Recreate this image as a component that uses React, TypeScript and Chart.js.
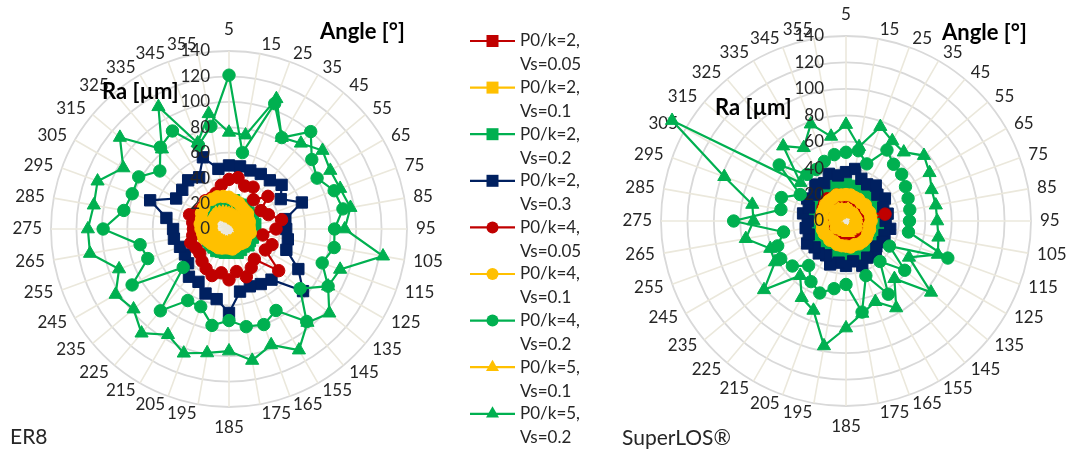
import React, { useEffect, useRef } from 'react';
import { Chart, registerables } from 'chart.js';

Chart.register(...registerables);

// ---------- DATA ----------
const angleLabels = ['5','15','25','35','45','55','65','75','85','95','105','115','125','135','145','155','165','175','185','195','205','215','225','235','245','255','265','275','285','295','305','315','325','335','345','355'];
const tickValues = [0, 20, 40, 60, 80, 100, 120, 140];

const seriesNames = ['P0/k=2, Vs=0.05', 'P0/k=2, Vs=0.1', 'P0/k=2, Vs=0.2', 'P0/k=2, Vs=0.3', 'P0/k=4, Vs=0.05', 'P0/k=4, Vs=0.1', 'P0/k=4, Vs=0.2', 'P0/k=5, Vs=0.1', 'P0/k=5, Vs=0.2'];
const seriesColors = ['#C00000', '#FFC000', '#00B050', '#002060', '#C00000', '#FFC000', '#00B050', '#FFC000', '#00B050'];
const seriesMarkers = ['rect', 'rect', 'rect', 'rect', 'circle', 'circle', 'circle', 'triangle', 'triangle'];

// ER8
const er8K2Vs005 = [15,14,13,12,12,12,11,11,12,13,13,14,15,16,17,17,16,15,14,14,15,15,16,17,18,19,20,20,21,21,20,21,20,18,17,16];
const er8K2Vs01 = [10,10,9,9,9,9,9,9,9,10,10,10,10,11,11,11,11,11,11,11,12,12,12,13,13,14,14,15,15,15,16,16,15,14,13,11];
const er8K2Vs02 = [22,23,21,22,21,20,21,20,21,20,19,20,19,20,18,19,20,19,18,19,19,20,19,20,19,20,21,20,21,20,21,22,21,22,21,23];
const er8K2Vs03 = [50,50,49,50,50,54,47,61,45,45,47,48,63,76,52,50,48,50,66,56,54,48,49,42,40,41,44,44,50,66,48,48,50,47,60,48];
const er8K4Vs005 = [39,41,36,38,30,40,29,33,42,37,27,36,33,51,31,35,40,34,40,35,39,36,33,30,30,32,29,28,29,33,28,27,29,28,30,35];
const er8K4Vs01 = [25,23,22,20,19,19,17,17,16,16,17,15,15,16,15,14,15,16,15,15,16,17,17,18,19,21,21,22,23,23,25,26,28,27,27,26];
const er8K4Vs02 = [121,61,105,83,100,85,80,88,91,83,84,78,90,73,95,74,80,78,72,77,65,65,84,47,88,68,71,99,84,81,82,71,84,89,70,82];
const er8K5Vs01 = [12,12,11,11,11,10,10,10,9,10,10,10,9,10,10,10,9,10,10,11,11,11,12,12,13,13,14,14,15,15,16,16,16,15,14,13];
const er8K5Vs02 = [76,75,109,83,88,96,92,93,97,91,123,93,90,103,96,110,97,105,96,99,104,96,107,98,103,92,111,111,108,110,96,112,82,111,72,92];

// SuperLOS
const slK2Vs005 = [21,25,19,18,17,18,16,17,16,17,18,17,16,17,16,15,16,17,16,15,16,17,18,17,17,18,19,18,19,21,23,24,25,26,24,22];
const slK2Vs01 = [12,13,12,12,11,12,11,11,12,12,13,12,12,13,13,12,12,13,12,12,11,12,12,13,12,12,11,12,12,13,12,13,13,12,12,12];
const slK2Vs02 = [28,27,26,27,25,26,27,25,26,27,26,27,28,27,29,26,28,27,29,28,27,26,28,27,26,27,25,26,27,26,27,28,27,29,28,27];
const slK2Vs03 = [37,40,34,32,35,31,34,30,32,30,34,31,32,30,35,32,36,31,34,32,35,30,32,31,34,30,31,29,33,30,34,31,36,33,38,35];
const slK4Vs005 = [18,19,18,17,17,16,17,17,30,17,16,17,16,16,17,16,16,17,16,16,17,17,16,17,18,18,17,18,19,19,20,21,22,20,21,19];
const slK4Vs01 = [20,20,19,19,18,19,18,19,19,19,18,19,19,20,20,20,19,20,19,19,19,18,19,18,19,19,18,19,18,19,19,20,20,20,21,20];
const slK4Vs02 = [52,54,46,62,56,55,52,50,49,48,48,82,38,58,40,64,44,70,48,52,58,53,44,53,57,55,48,85,50,52,40,66,46,45,48,51];
const slK5Vs01 = [8,9,8,8,7,8,9,8,8,7,8,8,9,8,8,7,8,9,8,8,7,8,8,9,8,8,7,8,9,8,8,7,8,8,9,8];
const slK5Vs02 = [73,57,76,70,68,77,73,69,69,69,71,74,55,84,57,76,65,71,81,96,72,67,54,81,62,61,77,70,72,98,152,45,74,64,78,65];

const er8Series = [er8K2Vs005, er8K2Vs01, er8K2Vs02, er8K2Vs03, er8K4Vs005, er8K4Vs01, er8K4Vs02, er8K5Vs01, er8K5Vs02];
const slSeries = [slK2Vs005, slK2Vs01, slK2Vs02, slK2Vs03, slK4Vs005, slK4Vs01, slK4Vs02, slK5Vs01, slK5Vs02];

// ---------- STYLE ----------
const FONT = 'Lato, "Open Sans", sans-serif';
const TEXT = '#262626';
const W = 1070;
const H = 455;

const markerRadius: Record<string, number> = { rect: 8, circle: 6.2, triangle: 7.6 };

function buildDatasets(series: number[][]) {
  return series.map((vals, i) => ({
    label: seriesNames[i],
    data: vals,
    borderColor: seriesColors[i],
    backgroundColor: seriesColors[i],
    pointBackgroundColor: seriesColors[i],
    pointBorderColor: seriesColors[i],
    pointStyle: seriesMarkers[i],
    pointRadius: markerRadius[seriesMarkers[i]],
    pointBorderWidth: 1,
    borderWidth: 2.2,
    fill: false,
    tension: 0,
    clip: false,
    order: series.length - i,
  }));
}

function drawMarker(ctx: CanvasRenderingContext2D, style: string, x: number, y: number, color: string) {
  ctx.fillStyle = color;
  ctx.beginPath();
  if (style === 'rect') {
    ctx.rect(x - 6, y - 6, 12, 12);
  } else if (style === 'circle') {
    ctx.arc(x, y, 6, 0, Math.PI * 2);
  } else {
    const r = 7.5;
    ctx.moveTo(x, y - r);
    ctx.lineTo(x + r * Math.sin((2 * Math.PI) / 3), y - r * Math.cos((2 * Math.PI) / 3));
    ctx.lineTo(x + r * Math.sin((4 * Math.PI) / 3), y - r * Math.cos((4 * Math.PI) / 3));
    ctx.closePath();
  }
  ctx.fill();
}

interface DecorCfg {
  tickOffset: number;
  angleTitle: [number, number];
  raTitle: [number, number];
  name: string;
  namePos: [number, number];
  legend: boolean;
}

function makeDecor(cfg: DecorCfg) {
  return {
    id: 'decor',
    beforeDatasetsDraw(chart: any) {
      const ctx: CanvasRenderingContext2D = chart.ctx;
      const scale = chart.scales.r;
      const R = scale.drawingArea;
      const n = angleLabels.length;
      ctx.save();
      ctx.font = `17px ${FONT}`;
      ctx.fillStyle = TEXT;
      angleLabels.forEach((lab, i) => {
        const p = scale.getPointPosition(i, R + 9);
        const deg = (i * 360) / n;
        ctx.textBaseline = 'middle';
        let y = p.y;
        if (deg === 0) {
          ctx.textAlign = 'center';
          y = p.y - 12;
        } else if (deg === 180) {
          ctx.textAlign = 'center';
          y = p.y + 12;
        } else if (deg < 180) {
          ctx.textAlign = 'left';
        } else {
          ctx.textAlign = 'right';
        }
        ctx.fillText(lab, p.x, y);
      });
      ctx.restore();
    },
    afterDatasetsDraw(chart: any) {
      const ctx: CanvasRenderingContext2D = chart.ctx;
      const scale = chart.scales.r;
      ctx.save();
      // radial tick labels
      ctx.font = `17px ${FONT}`;
      ctx.fillStyle = TEXT;
      ctx.textAlign = 'right';
      ctx.textBaseline = 'middle';
      tickValues.forEach((v) => {
        const d = scale.getDistanceFromCenterForValue(v);
        ctx.fillText(String(v), scale.xCenter - cfg.tickOffset, scale.yCenter - d);
      });
      // titles
      ctx.font = `bold 22px ${FONT}`;
      ctx.fillStyle = '#000';
      ctx.textAlign = 'left';
      ctx.fillText('Angle [°]', cfg.angleTitle[0], cfg.angleTitle[1]);
      ctx.fillText('Ra [µm]', cfg.raTitle[0], cfg.raTitle[1]);
      ctx.font = `21px ${FONT}`;
      ctx.fillStyle = TEXT;
      ctx.fillText(cfg.name, cfg.namePos[0], cfg.namePos[1]);
      // legend
      if (cfg.legend) {
        const lx0 = 470;
        const lx1 = 515;
        const mx = 492.5;
        const tx = 520;
        const y0 = 41;
        const step = 46.6;
        ctx.font = `17px ${FONT}`;
        chart.data.datasets.forEach((ds: any, i: number) => {
          const y = y0 + i * step;
          ctx.strokeStyle = ds.borderColor;
          ctx.lineWidth = 2.2;
          ctx.beginPath();
          ctx.moveTo(lx0, y);
          ctx.lineTo(lx1, y);
          ctx.stroke();
          drawMarker(ctx, ds.pointStyle, mx, y, ds.pointBackgroundColor);
          const parts = String(ds.label).split(', ');
          ctx.fillStyle = TEXT;
          ctx.textAlign = 'left';
          ctx.textBaseline = 'middle';
          ctx.fillText(parts[0] + ',', tx, y);
          ctx.fillText(parts[1], tx, y + 24);
        });
      }
      ctx.restore();
    },
  };
}

function makeConfig(series: number[][], padding: any, cfg: DecorCfg): any {
  return {
    type: 'radar',
    data: { labels: angleLabels, datasets: buildDatasets(series) },
    options: {
      responsive: false,
      animation: false,
      devicePixelRatio: 1,
      events: [],
      layout: { padding },
      plugins: {
        legend: { display: false },
        tooltip: { enabled: false },
        title: { display: false },
      },
      scales: {
        r: {
          min: 0,
          max: 140,
          ticks: { display: false, stepSize: 20 },
          pointLabels: { display: false },
          grid: { circular: true, color: '#d9d9d9', lineWidth: 1.8 },
          angleLines: { color: '#ebe8dc', lineWidth: 1.6 },
        },
      },
    },
    plugins: [makeDecor(cfg)],
  };
}

export default function App() {
  const leftRef = useRef<HTMLCanvasElement>(null);
  const rightRef = useRef<HTMLCanvasElement>(null);

  useEffect(() => {
    Chart.defaults.font.family = FONT;
    const left = new Chart(
      leftRef.current as HTMLCanvasElement,
      makeConfig(
        er8Series,
        { left: 51, top: 51, right: W - 51 - 356, bottom: H - 51 - 356 },
        { tickOffset: 19, angleTitle: [320, 32], raTitle: [102, 92], name: 'ER8', namePos: [10, 437], legend: true }
      )
    );
    const right = new Chart(
      rightRef.current as HTMLCanvasElement,
      makeConfig(
        slSeries,
        { left: 661, top: 36, right: W - 661 - 370, bottom: H - 36 - 370 },
        { tickOffset: 22, angleTitle: [942, 33], raTitle: [715, 108], name: 'SuperLOS®', namePos: [622, 438], legend: false }
      )
    );
    return () => {
      left.destroy();
      right.destroy();
    };
  }, []);

  const canvasStyle: React.CSSProperties = { position: 'absolute', left: 0, top: 0 };
  return (
    <div style={{ position: 'absolute', left: 0, top: 0, width: W, height: H, background: '#fff' }}>
      <canvas ref={leftRef} width={W} height={H} style={canvasStyle} />
      <canvas ref={rightRef} width={W} height={H} style={canvasStyle} />
    </div>
  );
}
